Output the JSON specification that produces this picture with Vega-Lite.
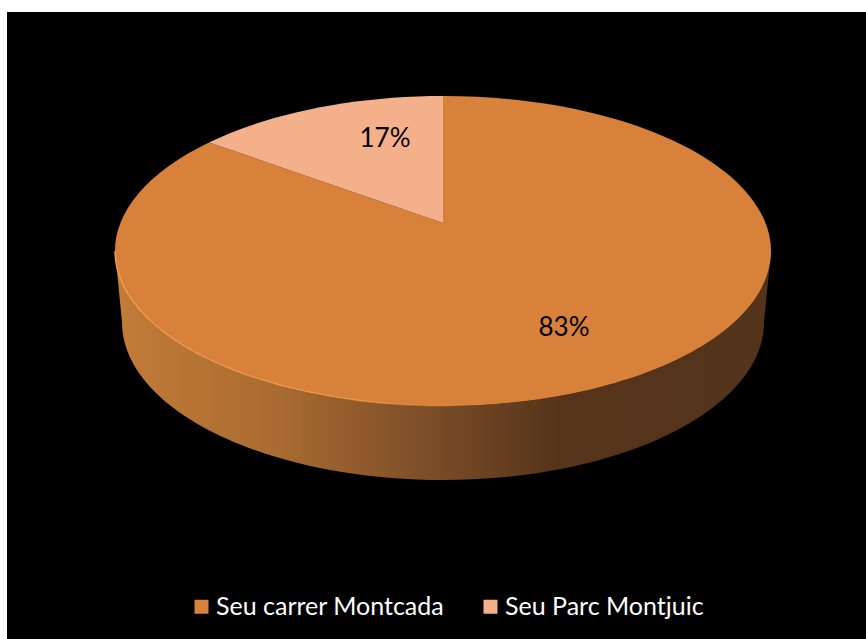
{
  "$schema": "https://vega.github.io/schema/vega-lite/v6.json",
  "width": 859,
  "height": 627,
  "padding": {"left": 7, "top": 12, "right": 0, "bottom": 0},
  "autosize": "none",
  "background": "#ffffff",
  "view": {"fill": "#000000", "stroke": null},
  "data": {"values": [
    {"segment": "Seu carrer Montcada", "share": 0.83},
    {"segment": "Seu Parc Montjuic", "share": 0.17}
  ]},
  "layer": [
    {
      "transform": [{"filter": "datum.share > 0.5"}],
      "mark": {
        "type": "point", "filled": true, "size": 4, "opacity": 1,
        "shape": "M-328,0 L-321,71 A321,158 0 0 0 321,71 L328,0 A328,155 0 0 1 -328,0 Z",
        "fill": {"gradient": "linear", "x1": 0, "x2": 1, "y1": 0, "y2": 0, "stops": [
          {"offset": 0, "color": "#c27c38"},
          {"offset": 0.25, "color": "#a96b30"},
          {"offset": 0.44, "color": "#83522a"},
          {"offset": 0.68, "color": "#55341a"},
          {"offset": 1, "color": "#53331a"}
        ]}
      },
      "encoding": {
        "x": {"datum": 0, "type": "quantitative", "axis": null, "scale": {"domain": [-436, 423], "range": [0, 859]}},
        "y": {"datum": 0, "type": "quantitative", "axis": null, "scale": {"domain": [-239, 388], "range": [0, 627]}}
      }
    },
    {
      "mark": {"type": "point", "filled": true, "size": 4, "opacity": 1},
      "encoding": {
        "x": {"datum": 0, "type": "quantitative", "axis": null, "scale": {"domain": [-436, 423], "range": [0, 859]}},
        "y": {"datum": 0, "type": "quantitative", "axis": null, "scale": {"domain": [-239, 388], "range": [0, 627]}},
        "shape": {
          "field": "segment", "type": "nominal", "legend": null,
          "scale": {
            "domain": ["Seu carrer Montcada", "Seu Parc Montjuic"],
            "range": [
              "M0,-28 L0,-155 A328,155 0 1 1 -234,-108.6 Z",
              "M0,-28 L-234,-108.6 A328,155 0 0 1 0,-155 Z"
            ]
          }
        },
        "fill": {
          "field": "segment", "type": "nominal",
          "scale": {"domain": ["Seu carrer Montcada", "Seu Parc Montjuic"], "range": ["#d7813b", "#f4b08a"]},
          "legend": {
            "title": null, "orient": "none", "legendX": 182, "legendY": 582, "direction": "horizontal",
            "symbolType": "square", "symbolSize": 196, "symbolStrokeWidth": 0, "symbolOpacity": 1,
            "labelColor": "#ffffff", "labelFont": "Lato", "labelFontSize": 25, "labelLimit": 400,
            "labelOffset": 2, "columnPadding": 33, "symbolOffset": 0
          }
        }
      }
    },
    {
      "transform": [{"filter": "datum.share > 0.5"}],
      "mark": {
        "type": "point", "filled": false, "size": 4, "opacity": 1, "strokeWidth": 1.5,
        "shape": "M-328,0 A328,155 0 0 0 60,152",
        "stroke": {"gradient": "linear", "x1": 0, "x2": 1, "y1": 0, "y2": 0, "stops": [
          {"offset": 0, "color": "rgba(247,160,80,0.9)"},
          {"offset": 0.6, "color": "rgba(247,160,80,0.7)"},
          {"offset": 1, "color": "rgba(247,160,80,0)"}
        ]}
      },
      "encoding": {
        "x": {"datum": 0, "type": "quantitative", "axis": null, "scale": {"domain": [-436, 423], "range": [0, 859]}},
        "y": {"datum": 0, "type": "quantitative", "axis": null, "scale": {"domain": [-239, 388], "range": [0, 627]}}
      }
    },
    {
      "mark": {"type": "text", "font": "Lato", "fontSize": 26, "color": "#000000", "align": "center", "baseline": "middle"},
      "encoding": {
        "text": {"field": "share", "type": "quantitative", "format": ".0%"},
        "x": {"field": "segment", "type": "nominal", "axis": null, "scale": {"type": "point", "padding": 0, "domain": ["Seu carrer Montcada", "Seu Parc Montjuic"], "range": [557, 378]}},
        "y": {"field": "segment", "type": "nominal", "axis": null, "scale": {"type": "point", "padding": 0, "domain": ["Seu carrer Montcada", "Seu Parc Montjuic"], "range": [316, 127]}}
      }
    }
  ],
  "resolve": {"scale": {"x": "independent", "y": "independent", "fill": "independent"}}
}
